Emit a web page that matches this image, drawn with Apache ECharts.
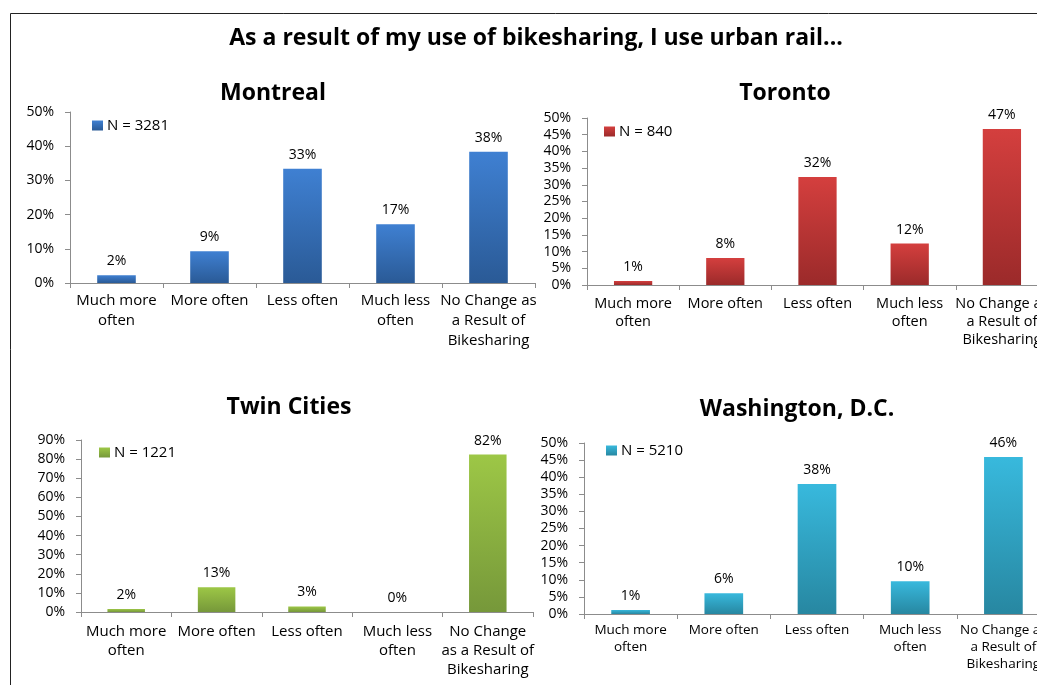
<!DOCTYPE html>
<html>
<head>
<meta charset="utf-8">
<script src="https://cdn.jsdelivr.net/npm/echarts@6/dist/echarts.min.js"></script>
<style>
  html, body { margin: 0; padding: 0; background: #fff; overflow: hidden; }
  #chart { width: 1100px; height: 685px; }
</style>
</head>
<body>
<div id="chart"></div>
<script>
// categories and wrapped tick labels
const categories = ['Much more often', 'More often', 'Less often', 'Much less often', 'No Change as a Result of Bikesharing']
const labelsA = ['Much more\noften', 'More often', 'Less often', 'Much less\noften', 'No Change as\na Result of\nBikesharing']
const labelsB = ['Much more\noften', 'More often', 'Less often', 'Much less\noften', 'No Change\nas a Result of\nBikesharing']

const cities = ['Montreal', 'Toronto', 'Twin Cities', 'Washington, D.C.']
const sampleN = ['N = 3281', 'N = 840', 'N = 1221', 'N = 5210']

// percent values
const montreal = [2.3, 9.3, 33.4, 17.2, 38.4]
const toronto = [1.2, 8.1, 32.3, 12.4, 46.7]
const twinCities = [1.6, 13.0, 2.9, 0, 82.4]
const washington = [1.2, 6.1, 38.0, 9.6, 45.9]

const yMax = [50, 50, 90, 50]
const yStep = [10, 5, 10, 5]

const colors = [
  ['#3f80d2', '#2a5a96'],
  ['#d43f3e', '#9b2a2a'],
  ['#9dc746', '#76983a'],
  ['#38b9dd', '#2787a1']
]

const font = '"Open Sans", Lato, sans-serif'
// chart is a bit wider than the window so the right panels run off the edge like the original
const chart = echarts.init(document.getElementById('chart'))

const grids = [
  { left: 70, top: 112, width: 465, height: 171 },
  { left: 587, top: 118, width: 461, height: 167 },
  { left: 81, top: 440, width: 452, height: 172 },
  { left: 584, top: 443, width: 466, height: 171 }
]
const titlePos = [[268, 77], [780, 77], [284, 391], [792, 393]]
const legendPos = [[92, 118], [604, 124], [99, 445], [606, 443]]
const allData = [montreal, toronto, twinCities, washington]
const tickLabels = [labelsA, labelsA, labelsB, labelsA]
const catFont = [15, 14.5, 15, 13.5]
const catLine = [20, 18, 19, 17]
const catMargin = [8, 10, 10, 8]

const grad = c => new echarts.graphic.LinearGradient(0, 0, 0, 1, [
  { offset: 0, color: c[0] }, { offset: 1, color: c[1] }
])

const option = {
  animation: false,
  textStyle: { fontFamily: font },
  graphic: [{
    type: 'rect',
    shape: { x: 10.5, y: 13.5, width: 1200, height: 1000 },
    style: { fill: 'none', stroke: '#222', lineWidth: 1 }
  }],
  title: [{
    text: 'As a result of my use of bikesharing, I use urban rail...',
    left: 531, top: 22, textAlign: 'center',
    textStyle: { fontSize: 23, fontWeight: 'bold', color: '#000', fontFamily: font }
  }].concat(cities.map((c, i) => ({
    text: c,
    left: titlePos[i][0], top: titlePos[i][1], textAlign: 'center',
    textStyle: { fontSize: 23, fontWeight: 'bold', color: '#000', fontFamily: font }
  }))),
  legend: sampleN.map((n, i) => ({
    data: [n],
    left: legendPos[i][0], top: legendPos[i][1],
    icon: 'rect', itemWidth: 11, itemHeight: 10, itemGap: 4,
    padding: 0,
    textStyle: { fontSize: 15, color: '#000', fontFamily: font, padding: [0, 0, 0, -1] }
  })),
  grid: grids,
  xAxis: grids.map((g, i) => ({
    type: 'category',
    gridIndex: i,
    data: categories,
    axisLine: { lineStyle: { color: '#8c8c8c' } },
    axisTick: { show: true, length: 5, lineStyle: { color: '#8c8c8c' } },
    axisLabel: {
      interval: 0, margin: catMargin[i], color: '#000', fontSize: catFont[i], lineHeight: catLine[i],
      fontFamily: font,
      formatter: (v, idx) => tickLabels[i][idx]
    }
  })),
  yAxis: grids.map((g, i) => ({
    type: 'value',
    gridIndex: i,
    min: 0, max: yMax[i], interval: yStep[i],
    splitLine: { show: false },
    axisLine: { show: true, lineStyle: { color: '#8c8c8c' } },
    axisTick: { show: true, length: 5, lineStyle: { color: '#8c8c8c' } },
    axisLabel: { formatter: '{value}%', margin: 16, color: '#000', fontSize: 14, fontFamily: font }
  })),
  series: allData.map((d, i) => ({
    name: sampleN[i],
    type: 'bar',
    xAxisIndex: i, yAxisIndex: i,
    data: d,
    barWidth: '41.5%',
    itemStyle: { color: grad(colors[i]) },
    label: {
      show: true, position: 'top', distance: 7,
      color: '#000', fontSize: 14, fontFamily: font,
      formatter: p => Math.round(p.value) + '%'
    }
  }))
}

chart.setOption(option)
window.addEventListener('resize', () => chart.resize())
</script>
</body>
</html>
